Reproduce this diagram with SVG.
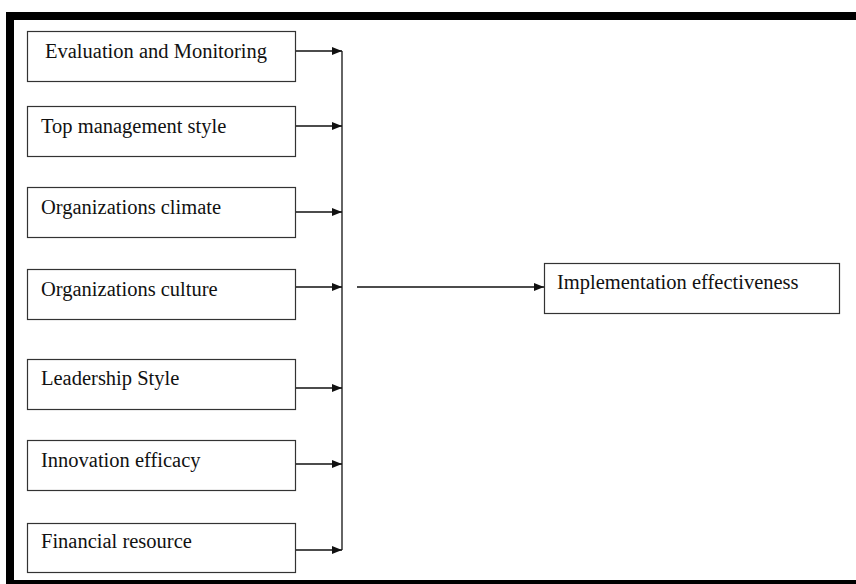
<svg xmlns="http://www.w3.org/2000/svg" width="856" height="584" viewBox="0 0 856 584">
<style>
.box{fill:#fff;stroke:#333;stroke-width:1.2}
.t{font-family:"Liberation Serif","Times New Roman",serif;font-size:20.5px;fill:#111}
.c{stroke:#111;stroke-width:1.3;fill:none}
</style>
<defs>
<marker id="ah" viewBox="0 0 10 8" refX="10" refY="4" markerWidth="10" markerHeight="8" markerUnits="userSpaceOnUse" orient="auto">
<path d="M0,0 L10,4 L0,8 Z" fill="#111"/>
</marker>
</defs>
<rect x="0" y="0" width="856" height="584" fill="#fff"/>
<rect x="10" y="16" width="860" height="568" fill="none" stroke="#000" stroke-width="8"/>
<g id="n1"><rect class="box" x="27.5" y="31.5" width="268" height="50"/><text class="t" x="45" y="58">Evaluation and Monitoring</text></g>
<g id="n2"><rect class="box" x="27.5" y="106.5" width="268" height="50"/><text class="t" x="41" y="133">Top management style</text></g>
<g id="n3"><rect class="box" x="27.5" y="187.5" width="268" height="50"/><text class="t" x="41" y="214">Organizations climate</text></g>
<g id="n4"><rect class="box" x="27.5" y="269.5" width="268" height="50"/><text class="t" x="41" y="296">Organizations culture</text></g>
<g id="n5"><rect class="box" x="27.5" y="359.5" width="268" height="50"/><text class="t" x="41" y="385">Leadership Style</text></g>
<g id="n6"><rect class="box" x="27.5" y="440.5" width="268" height="50"/><text class="t" x="41" y="467">Innovation efficacy</text></g>
<g id="n7"><rect class="box" x="27.5" y="523.5" width="268" height="49"/><text class="t" x="41" y="548">Financial resource</text></g>
<g id="n8"><rect class="box" x="544.5" y="263.5" width="295" height="50"/><text class="t" x="557" y="289">Implementation effectiveness</text></g>
<g id="connectors">
<line class="c" x1="342" y1="51" x2="342" y2="550"/>
<line class="c" x1="296" y1="51" x2="342" y2="51" marker-end="url(#ah)"/>
<line class="c" x1="296" y1="126" x2="342" y2="126" marker-end="url(#ah)"/>
<line class="c" x1="296" y1="212" x2="342" y2="212" marker-end="url(#ah)"/>
<line class="c" x1="296" y1="287" x2="342" y2="287" marker-end="url(#ah)"/>
<line class="c" x1="296" y1="388" x2="342" y2="388" marker-end="url(#ah)"/>
<line class="c" x1="296" y1="464" x2="342" y2="464" marker-end="url(#ah)"/>
<line class="c" x1="296" y1="550" x2="342" y2="550" marker-end="url(#ah)"/>
<line class="c" x1="357" y1="287" x2="544" y2="287" marker-end="url(#ah)"/>
</g>
</svg>
